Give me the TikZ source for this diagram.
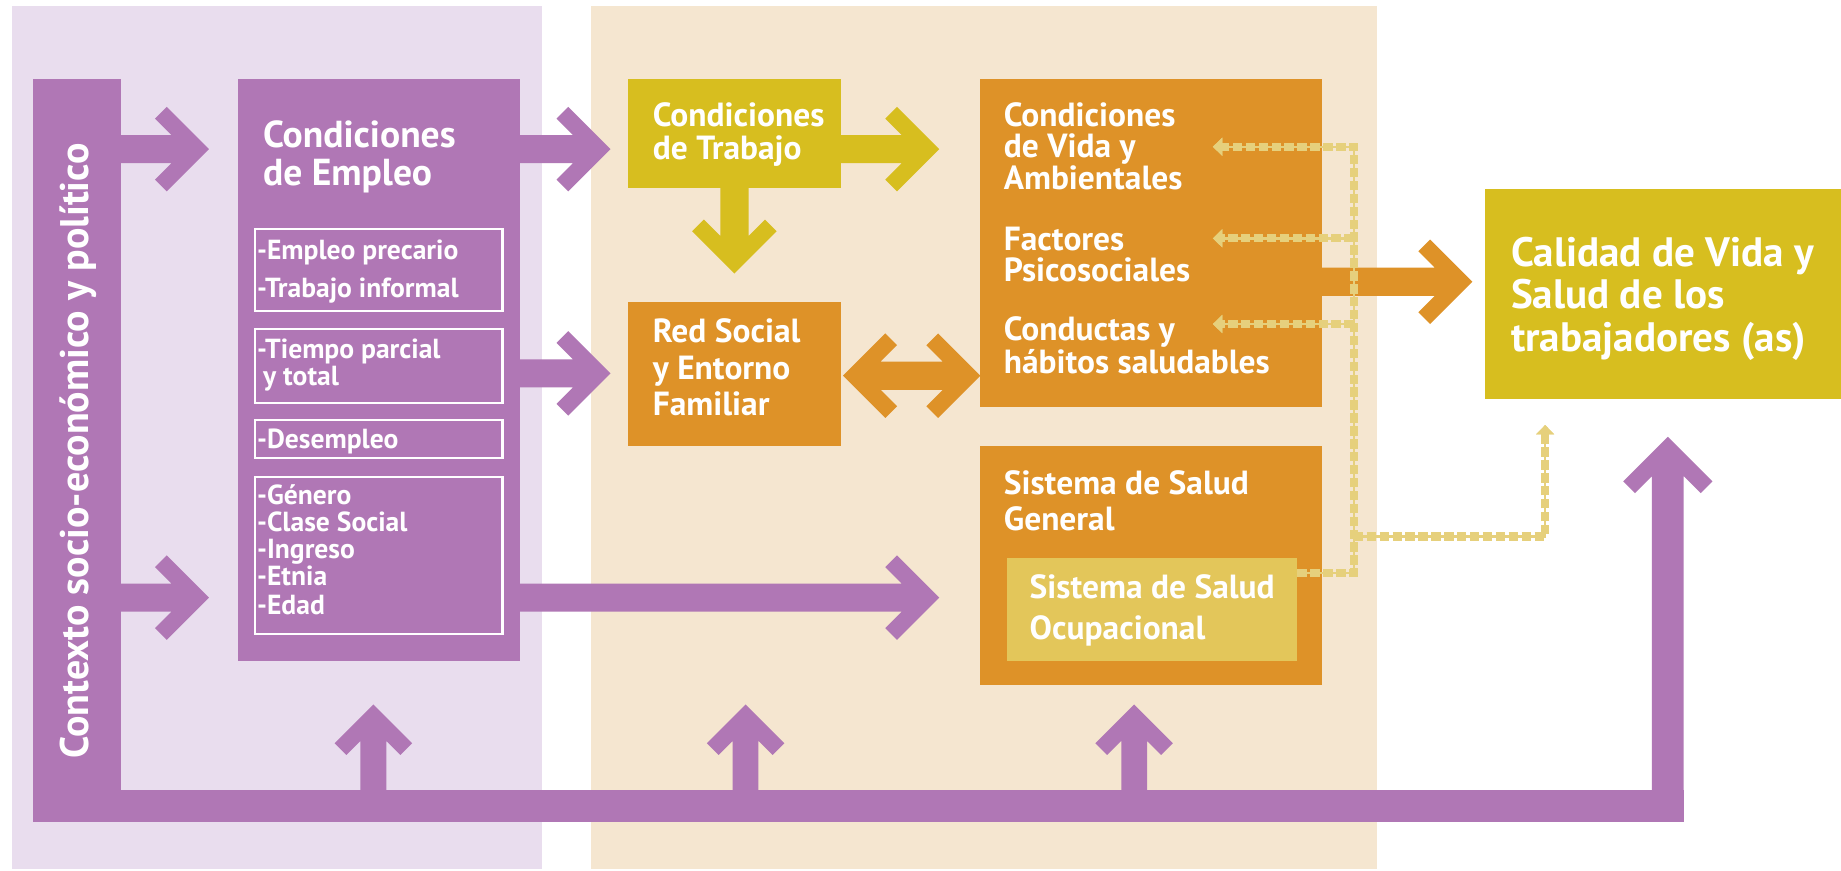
\documentclass[tikz,border=0pt]{standalone}
\usepackage{fontspec}
\setmainfont{PT Sans}
\usetikzlibrary{calc,arrows.meta}
\definecolor{purp}{HTML}{B077B5}
\definecolor{lav}{HTML}{E9DDEE}
\definecolor{cream}{HTML}{F5E6D0}
\definecolor{orng}{HTML}{DE9228}
\definecolor{ylw}{HTML}{D7BE1F}
\definecolor{ylwlt}{HTML}{E3C65A}
\definecolor{dotc}{HTML}{E6D07C}
\def\armti{10}
\def\armtj{20}
\tikzset{
  ashaft/.store in=\arrowsh, ashaft=12,
  aspan/.store in=\arrowsp, aspan=36,
  rbox/.style 2 args={anchor=north west, inner sep=0pt, outer sep=0pt, minimum width=#1pt, minimum height=#2pt},
  sbox/.style 2 args={rbox={#1}{#2}, draw=white, line width=1.8pt},
  tl/.style={anchor=base west, inner sep=0pt, outer sep=0pt, text=white},
  fCE/.style={font=\bfseries\fontsize{32}{32}\selectfont},
  fM/.style={font=\bfseries\fontsize{28.5}{28.5}\selectfont},
  fCal/.style={font=\bfseries\fontsize{35}{35}\selectfont},
  fSub/.style={font=\bfseries\fontsize{23.5}{23.5}\selectfont},
  dotl/.style={draw=dotc, line width=7pt, dash pattern=on 8pt off 3pt,
     preaction={draw=dotc, line width=2pt, solid}},
  dtip/.style={-{Triangle[length=8pt,width=15pt]}},
  aR/.style={to path={
    ($(\tikztostart)+(0,-\arrowsh)$) -- ($(\tikztotarget)+(-\armtj-\arrowsh,-\arrowsh)$)
    -- ($(\tikztotarget)+(-\arrowsp-\armti,-\arrowsp+\armti)$) -- ($(\tikztotarget)+(-\arrowsp,-\arrowsp)$)
    -- (\tikztotarget) -- ($(\tikztotarget)+(-\arrowsp,\arrowsp)$)
    -- ($(\tikztotarget)+(-\arrowsp-\armti,\arrowsp-\armti)$) -- ($(\tikztotarget)+(-\armtj-\arrowsh,\arrowsh)$)
    -- ($(\tikztostart)+(0,\arrowsh)$) -- cycle}},
  aU/.style={to path={
    ($(\tikztostart)+(-\arrowsh,0)$) -- ($(\tikztotarget)+(-\arrowsh,\armtj+\arrowsh)$)
    -- ($(\tikztotarget)+(-\arrowsp+\armti,\arrowsp+\armti)$) -- ($(\tikztotarget)+(-\arrowsp,\arrowsp)$)
    -- (\tikztotarget) -- ($(\tikztotarget)+(\arrowsp,\arrowsp)$)
    -- ($(\tikztotarget)+(\arrowsp-\armti,\arrowsp+\armti)$) -- ($(\tikztotarget)+(\arrowsh,\armtj+\arrowsh)$)
    -- ($(\tikztostart)+(\arrowsh,0)$) -- cycle}},
  aD/.style={to path={
    ($(\tikztostart)+(-\arrowsh,0)$) -- ($(\tikztotarget)+(-\arrowsh,-\armtj-\arrowsh)$)
    -- ($(\tikztotarget)+(-\arrowsp+\armti,-\arrowsp-\armti)$) -- ($(\tikztotarget)+(-\arrowsp,-\arrowsp)$)
    -- (\tikztotarget) -- ($(\tikztotarget)+(\arrowsp,-\arrowsp)$)
    -- ($(\tikztotarget)+(\arrowsp-\armti,-\arrowsp-\armti)$) -- ($(\tikztotarget)+(\arrowsh,-\armtj-\arrowsh)$)
    -- ($(\tikztostart)+(\arrowsh,0)$) -- cycle}},
  aLR/.style={to path={
    ($(\tikztostart)+(\armtj+\arrowsh,-\arrowsh)$) -- ($(\tikztotarget)+(-\armtj-\arrowsh,-\arrowsh)$)
    -- ($(\tikztotarget)+(-\arrowsp-\armti,-\arrowsp+\armti)$) -- ($(\tikztotarget)+(-\arrowsp,-\arrowsp)$)
    -- (\tikztotarget) -- ($(\tikztotarget)+(-\arrowsp,\arrowsp)$)
    -- ($(\tikztotarget)+(-\arrowsp-\armti,\arrowsp-\armti)$) -- ($(\tikztotarget)+(-\armtj-\arrowsh,\arrowsh)$)
    -- ($(\tikztostart)+(\armtj+\arrowsh,\arrowsh)$)
    -- ($(\tikztostart)+(\arrowsp+\armti,\arrowsp-\armti)$) -- ($(\tikztostart)+(\arrowsp,\arrowsp)$)
    -- (\tikztostart) -- ($(\tikztostart)+(\arrowsp,-\arrowsp)$)
    -- ($(\tikztostart)+(\arrowsp+\armti,-\arrowsp+\armti)$) -- cycle}},
}
\begin{document}
\begin{tikzpicture}[x=1pt,y=-1pt]
\useasboundingbox (0,0) rectangle (1568,741);
\fill[white] (0,0) rectangle (1568,741);
% backgrounds
\node[rbox={452}{735}, fill=lav] (bgL) at (10,5) {};
\node[rbox={670}{735}, fill=cream] (bgR) at (503,5) {};
% boxes
\node[rbox={75}{633}, fill=purp] (ctx) at (28,67) {};
\node[rbox={240}{496}, fill=purp] (ce) at (203,67) {};
\node[sbox={211}{70}] (s1) at (217,195) {};
\node[sbox={211}{63}] (s2) at (217,280) {};
\node[sbox={211}{32}] (s3) at (217,358) {};
\node[sbox={211}{134}] (s4) at (217,406) {};
\node[rbox={181}{93}, fill=ylw] (ct) at (535,67) {};
\node[rbox={181}{123}, fill=orng] (rs) at (535,257) {};
\node[rbox={291}{280}, fill=orng] (cv) at (835,67) {};
\node[rbox={291}{203}, fill=orng] (ss) at (835,380) {};
\node[rbox={247}{88}, fill=ylwlt] (so) at (858,475) {};
\node[rbox={303}{179}, fill=ylw] (cal) at (1265,161) {};
% texts
\node[rotate=90, text=white, inner sep=0pt, font=\bfseries\fontsize{34}{34}\selectfont] (tctx) at (67,384) {Contexto socio-económico y político};
\node[tl,fCE] (t1) at (224,126) {Condiciones};
\node[tl,fCE] (t2) at (224,158) {de Empleo};
\node[tl,fSub] (u1) at (219,221) {-Empleo precario};
\node[tl,fSub] (u2) at (219,253) {-Trabajo informal};
\node[tl,fSub] (u3) at (219,305) {-Tiempo parcial};
\node[tl,fSub] (u4) at (224,328) {y total};
\node[tl,fSub] (u5) at (219,382) {-Desempleo};
\node[tl,fSub] (u6) at (219,430) {-Género};
\node[tl,fSub] (u7) at (219,453) {-Clase Social};
\node[tl,fSub] (u8) at (219,476) {-Ingreso};
\node[tl,fSub] (u9) at (219,499) {-Etnia};
\node[tl,fSub] (u10) at (219,523) {-Edad};
\node[tl,fM] (t3) at (556,108) {Condiciones};
\node[tl,fM] (t4) at (556,136) {de Trabajo};
\node[tl,fM] (t5) at (556,292) {Red Social};
\node[tl,fM] (t6) at (556,323) {y Entorno};
\node[tl,fM] (t7) at (556,354) {Familiar};
\node[tl,fM] (t8) at (855,108) {Condiciones};
\node[tl,fM] (t9) at (855,134) {de Vida y};
\node[tl,fM] (t10) at (855,161) {Ambientales};
\node[tl,fM] (t11) at (855,213) {Factores};
\node[tl,fM] (t12) at (855,240) {Psicosociales};
\node[tl,fM] (t13) at (855,290) {Conductas y};
\node[tl,fM] (t14) at (855,318) {hábitos saludables};
\node[tl,fM] (t15) at (855,421) {Sistema de Salud};
\node[tl,fM] (t16) at (855,452) {General};
\node[tl,fM] (t17) at (877,510) {Sistema de Salud};
\node[tl,fM] (t18) at (877,545) {Ocupacional};
\node[tl,fCal] (t19) at (1287,227) {Calidad de Vida y};
\node[tl,fCal] (t20) at (1287,263) {Salud de los};
\node[tl,fCal] (t21) at (1287,299) {trabajadores (as)};
% levels
\coordinate (yA) at (0,127);
\coordinate (yB) at (0,318);
\coordinate (yC) at (0,509);
\coordinate (yD) at (0,320);
\coordinate (yE) at (0,240);
% purple arrows
\fill[purp, aR] (ctx.east |- yA) to ($(ce.west |- yA)+(-25,0)$);
\fill[purp, aR] (ctx.east |- yC) to ($(ce.west |- yC)+(-25,0)$);
\fill[purp, aR] (ce.east |- yA) to ($(ct.west |- yA)+(-15,0)$);
\fill[purp, aR] (ce.east |- yB) to ($(rs.west |- yB)+(-15,0)$);
\fill[purp, aR] (ce.east |- yC) to ($(ss.west |- yC)+(-35,0)$);
% yellow arrows
\fill[ylw, aR] (ct.east |- yA) to ($(cv.west |- yA)+(-35,0)$);
\fill[ylw, aD] (ct.south) to ($(rs.north)+(0,-24)$);
% orange arrows
\fill[orng, aLR] ($(rs.east |- yD)+(2,0)$) to (cv.west |- yD);
\fill[orng, aR] (cv.east |- yE) to ($(cal.west |- yE)+(-11,0)$);
% bottom frame
\coordinate (bend) at (1434,673);
\coordinate (bendc) at (1420.5,700);
\coordinate (rtip) at ($(cal.south)+(4,32)$);
\fill[purp] (ctx.south west) rectangle (bend);
\fill[purp, aU, ashaft=13.5, aspan=38] (bendc) to (rtip);
\coordinate (b1) at (318,673);
\coordinate (b2) at (635,673);
\coordinate (b3) at (966,673);
\coordinate (ty) at (0,600);
\fill[purp, aU, ashaft=11, aspan=33] (b1) to (b1 |- ty);
\fill[purp, aU, ashaft=11, aspan=33] (b2) to (b2 |- ty);
\fill[purp, aU, ashaft=11, aspan=33] (b3) to (b3 |- ty);
% dotted connectors
\coordinate (vt) at (1153,125);
\coordinate (vb) at (1153,488);
\coordinate (yF) at (0,203);
\coordinate (yG) at (0,276);
\coordinate (yH) at (0,457);
\coordinate (dtipc) at ($(cal.south west)+(51,22)$);
\draw[dotl, dtip] (so.east |- vb) -- (vb) -- (vt) -- ($(cv.east |- vt)+(-93,0)$);
\draw[dotl, dtip] (vt |- yF) -- ($(cv.east |- yF)+(-93,0)$);
\draw[dotl, dtip] (vt |- yG) -- ($(cv.east |- yG)+(-93,0)$);
\draw[dotl, dtip] (vt |- yH) -| (dtipc);
\end{tikzpicture}
\end{document}
